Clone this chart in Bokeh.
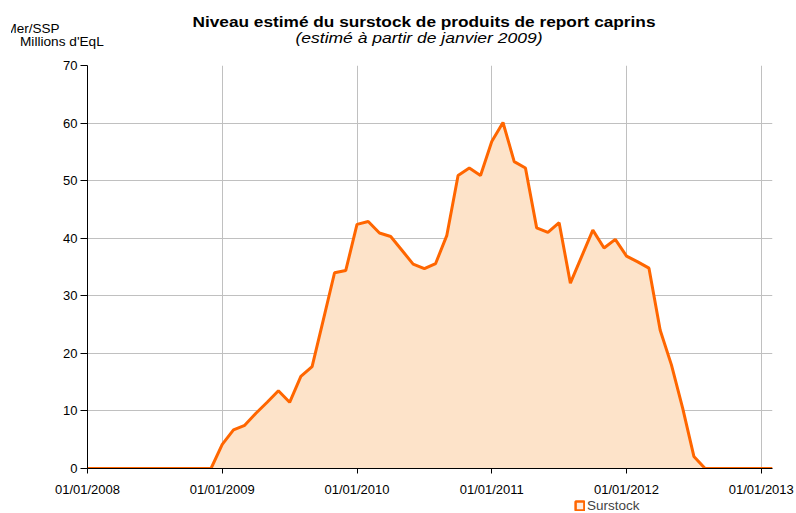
from bokeh.plotting import figure
from bokeh.layouts import column
from bokeh.models import (Range1d, FixedTicker, Legend, LegendItem,
                          ColumnDataSource, Div)
from bokeh.embed import file_html
from bokeh.resources import INLINE

# ---- data (monthly, Jan 2008 .. Feb 2013) ----
surstock_2008 = [0, 0, 0, 0, 0, 0, 0, 0, 0, 0, 0, 0]
surstock_2009 = [4.2, 6.7, 7.5, 9.6, 11.5, 13.5, 11.5, 16.0, 17.7, 25.8, 34.0, 34.4]
surstock_2010 = [42.4, 42.9, 40.9, 40.3, 37.9, 35.5, 34.7, 35.6, 40.5, 50.9, 52.2, 50.9]
surstock_2011 = [56.8, 60.1, 53.3, 52.2, 41.8, 41.0, 42.7, 32.2, 36.8, 41.4, 38.3, 39.8]
surstock_2012 = [36.9, 35.9, 34.8, 24.0, 18.0, 10.5, 2.1, 0, 0, 0, 0, 0]
surstock_2013 = [0, 0]
surstock = (surstock_2008 + surstock_2009 + surstock_2010 + surstock_2011
            + surstock_2012 + surstock_2013)
month_index = list(range(len(surstock)))

year_tick_months = [0, 12, 24, 36, 48, 60]
year_tick_labels = ["01/01/2008", "01/01/2009", "01/01/2010",
                    "01/01/2011", "01/01/2012", "01/01/2013"]
y_ticks = [0, 10, 20, 30, 40, 50, 60, 70]

title_text = "Niveau estimé du surstock de produits de report caprins"
subtitle_text = "(estimé à partir de janvier 2009)"
source_text = "FranceAgriMer/SSP"
unit_text = "Millions d'EqL"
series_name = "Surstock"

ORANGE = "#FF6600"
PEACH = "#FDE3C9"
GRID = "#C0C0C0"
FONT = "Liberation Sans"
W = 796
HEADER_H, MAIN_H, FOOTER_H = 50, 449, 14

# ---- header: titles and unit texts (HTML text) ----
base = ("position:absolute;white-space:nowrap;line-height:1;"
        "font-family:'Liberation Sans',Arial,sans-serif;color:black;")
header_html = (
    f'<div style="position:relative;width:{W}px;height:{HEADER_H}px;">'
    # title
    f'<div style="{base}left:24px;width:800px;text-align:center;top:13.8px;'
    f'font-size:15px;font-weight:bold;transform:scaleX(1.15);'
    f'transform-origin:400px 0;">{title_text}</div>'
    # subtitle
    f'<div style="{base}left:19px;width:800px;text-align:center;top:30.5px;'
    f'font-size:14px;font-style:italic;transform:scaleX(1.25);'
    f'transform-origin:400px 0;">{subtitle_text}</div>'
    # source (clipped on the left as in the original)
    f'<div style="position:absolute;left:11px;top:0;width:49px;height:{HEADER_H}px;'
    f'overflow:hidden;">'
    f'<div style="{base}right:0;top:22px;font-size:13px;transform:scaleX(1.04);'
    f'transform-origin:100% 0;">{source_text}</div></div>'
    # unit
    f'<div style="{base}left:20px;top:35px;font-size:13px;transform:scaleX(1.05);'
    f'transform-origin:0 0;">{unit_text}</div>'
    '</div>'
)
header = Div(text=header_html, width=W, height=HEADER_H, margin=0)

# ---- main chart ----
src = ColumnDataSource(dict(x=month_index, y=surstock))
p = figure(width=W, height=MAIN_H, output_backend="svg", toolbar_location=None,
           x_range=Range1d(0, len(surstock) - 1), y_range=Range1d(0, 70),
           min_border_left=87, min_border_right=24, min_border_top=15,
           min_border_bottom=28)
p.outline_line_color = None

p.xgrid.ticker = FixedTicker(ticks=year_tick_months)
p.ygrid.ticker = FixedTicker(ticks=y_ticks)
p.grid.grid_line_color = GRID
p.grid.grid_line_width = 1

for ax in (p.xaxis[0], p.yaxis[0]):
    ax.axis_line_color = "black"
    ax.major_tick_line_color = "black"
    ax.major_tick_in = 0
    ax.minor_tick_line_color = None
    ax.major_label_text_font = FONT
    ax.major_label_text_font_size = "13px"
    ax.major_label_text_color = "black"

p.xaxis.ticker = FixedTicker(ticks=year_tick_months)
p.xaxis.major_label_overrides = {m: l for m, l in zip(year_tick_months, year_tick_labels)}
p.xaxis.major_tick_out = 5
p.xaxis.major_label_standoff = 8

p.yaxis.ticker = FixedTicker(ticks=y_ticks)
p.yaxis.major_tick_out = 7
p.yaxis.major_label_standoff = 3

p.varea(x="x", y1=0, y2="y", source=src, fill_color=PEACH)
p.line(x="x", y="y", source=src, line_color=ORANGE, line_width=3)

# ---- footer: legend (frame aligned with the main chart's frame) ----
# the legend proxy glyph uses the series source; the footer ranges keep it off-view
footer = figure(width=W, height=FOOTER_H, output_backend="svg", toolbar_location=None,
                x_axis_location=None, y_axis_location=None, min_border=0,
                x_range=Range1d(-3, -2), y_range=Range1d(-3, -2))
footer.outline_line_color = None
footer.grid.visible = False
leg_r = footer.quad(left="x", right="x", top="y", bottom="y", source=src,
                    fill_color="#FFEBDD", line_color=ORANGE, line_width=2.5)
legend = Legend(items=[LegendItem(label=series_name, renderers=[leg_r])],
                location=(487, 0), orientation="horizontal",
                padding=0, margin=0, spacing=0, border_line_color=None,
                background_fill_alpha=0, glyph_width=11, glyph_height=11,
                label_standoff=2, label_text_font=FONT,
                label_text_font_size="13.5px", label_height=14)
footer.add_layout(legend, "center")

layout = column(header, p, footer, spacing=0)
open("out.html", "w").write(file_html(layout, INLINE))
